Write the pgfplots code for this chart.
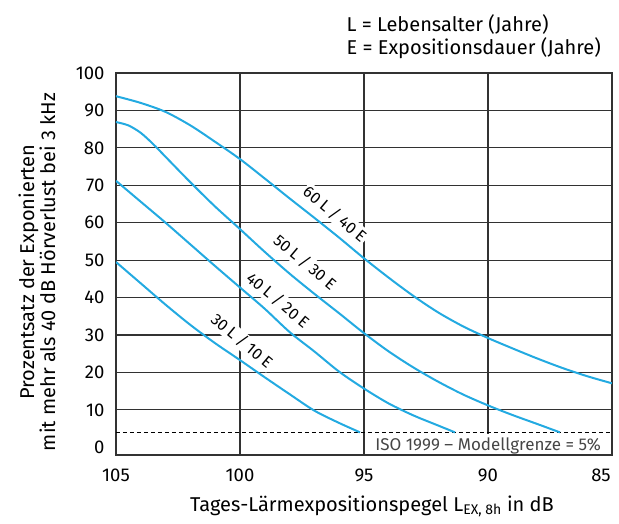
\documentclass[border=0pt]{standalone}
\usepackage{fontspec}
\setmainfont{Fira Sans}
\usepackage{pgfplots}
\pgfplotsset{compat=1.18}
\definecolor{curve}{RGB}{35,170,225}
\definecolor{gridc}{RGB}{50,50,50}
\definecolor{isogray}{RGB}{70,70,70}
\begin{document}
\begin{tikzpicture}[x=1pt,y=1pt]
\useasboundingbox (0,0) rectangle (619,523);
\begin{axis}[
  at={(116pt,68pt)}, anchor=south west,
  width=496pt, height=382pt, scale only axis,
  x dir=reverse, xmin=85, xmax=105, ymin=-2.05, ymax=100,
  xtick={85,90,95,100,105},
  xticklabels={\kern-11pt 85\kern11pt,90,95,100,105},
  ytick={10,20,30,40,50,60,70,80,90,100},
  yticklabels={10,20,30,40,50,60,70,80,90,100},
  extra y ticks={0},
  extra y tick labels={0},
  extra y tick style={grid=none},
  major tick length=0pt,
  xmajorgrids=true,
  ymajorgrids=true,
  major grid style={draw=gridc, line width=1.1pt},
  axis line style={draw=gridc, line width=1.1pt},
  /pgf/number format/assume math mode=true,
  tick label style={font=\fontsize{18.5}{18.5}\selectfont, text=black},
  xticklabel style={yshift=-10pt},
  yticklabel style={xshift=-8pt},
  clip=true,
]
\fill[white] ([xshift=2pt,yshift=1pt]axis cs:95,-2.05) rectangle ([xshift=-1pt]axis cs:85,3.5);
\addplot[black, line width=0.9pt, dash pattern=on 4pt off 3pt] coordinates {(105,4) (85,4)};
% 60 L / 40 E
\addplot[curve, line width=2pt, smooth] coordinates {
(105,93.8) (104,92.0) (103,89.6) (102,86.0) (101,81.6) (100,77.0) (99,71.8) (98,66.5)
(97,61.3) (96,56.0) (95,50.5) (94,45.3) (93,40.4) (92,36.0) (91,32.3) (90,29.2)
(89,26.4) (88,23.7) (87,21.2) (86,19.0) (85,17.1)};
% 50 L / 30 E
\addplot[curve, line width=2pt, smooth] coordinates {
(105,86.9) (104.5,86.0) (104,84.0) (103.5,81.0) (103,77.6) (102,70.8) (101,64.3) (100,58.3)
(99,52.2) (98,46.4) (97,41.0) (96,35.8) (95,30.5) (94,25.6) (93,21.3) (92,17.5)
(91,14.1) (90,11.2) (89,8.6) (88,6.2) (87.1,4.0)};
% 40 L / 20 E
\addplot[curve, line width=2pt, smooth] coordinates {
(105,71.2) (104,65.6) (103,60.0) (102,54.2) (101,48.4) (100,42.7) (99,37.0) (98,30.8)
(97,25.6) (96,20.2) (95,15.7) (94,11.7) (93,8.5) (92,5.8) (91.33,4.0)};
% 30 L / 10 E
\addplot[curve, line width=2pt, smooth] coordinates {
(105,49.5) (104,43.8) (103,38.1) (102,32.7) (101,27.8) (100,23.3) (99,18.7) (98,14.2)
(97,9.8) (96,6.5) (95.16,4.0)};
\tikzset{clab/.style={rotate=-40, fill=white, inner sep=1.5pt, font=\fontsize{16}{16}\selectfont}}
\node[clab] at (axis cs:96.17,62.3) {60 L / 40 E};
\node[clab] at (axis cs:97.38,49.5) {50 L / 30 E};
\node[clab] at (axis cs:98.47,39.3) {40 L / 20 E};
\node[clab] at (axis cs:99.92,28.4) {30 L / 10 E};
\node[anchor=east, text=isogray, font=\fontsize{17}{17}\selectfont, inner sep=0pt] at ([xshift=-11pt]axis cs:85,0.4) {ISO 1999 – Modellgrenze = 5\%};
\end{axis}
\node[anchor=base west, font=\fontsize{20}{20}\selectfont] at (343,491) {L = Lebensalter (Jahre)};
\node[anchor=base west, font=\fontsize{20}{20}\selectfont] at (343,468) {E = Expositionsdauer (Jahre)};
\node[anchor=base, font=\fontsize{20}{20}\selectfont] at (372,12) {Tages-Lärmexpositionspegel L\textsubscript{EX, 8h} in dB};
\node[rotate=90, align=center, font=\fontsize{20}{21}\selectfont] at (37,251) {Prozentsatz der Exponierten\\mit mehr als 40 dB Hörverlust bei 3 kHz};
\end{tikzpicture}
\end{document}
